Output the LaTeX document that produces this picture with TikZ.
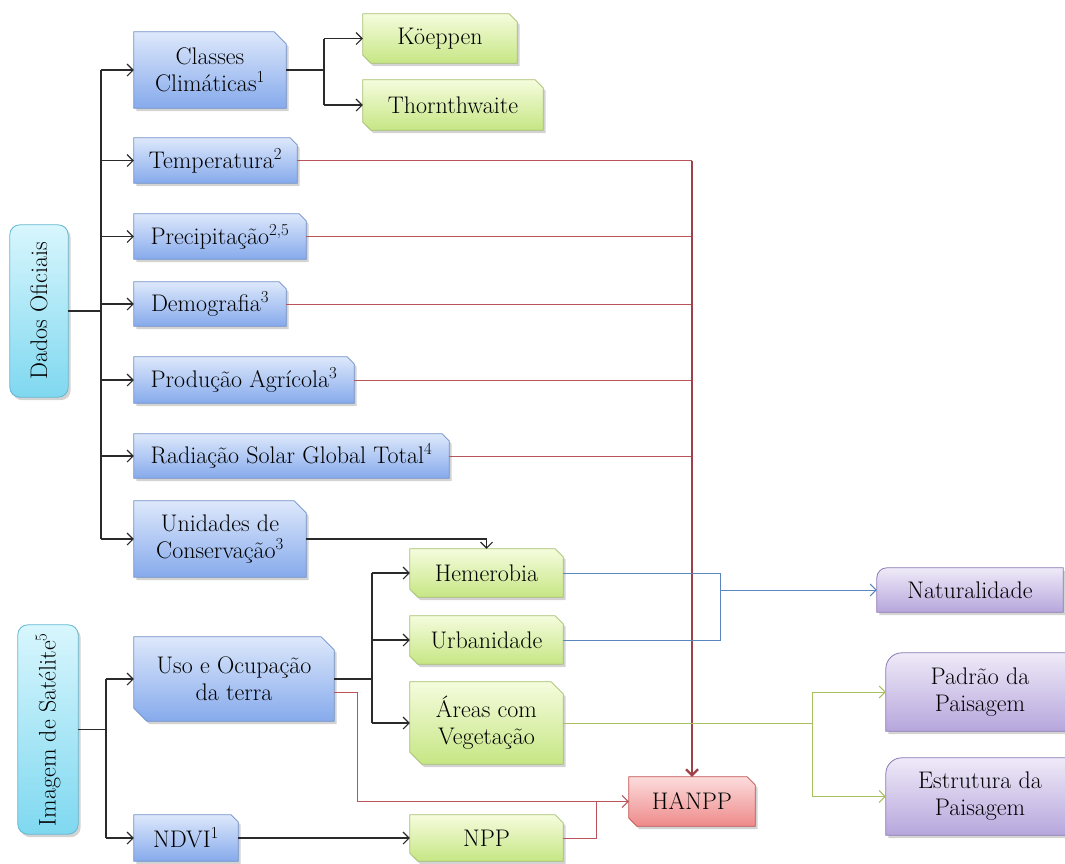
\documentclass[tikz,border=0pt]{standalone}
\usepackage{fontspec}
\usetikzlibrary{arrows.meta,shadows,calc}
\pgfdeclarelayer{background}
\pgfsetlayers{background,main}
\definecolor{bluetop}{HTML}{DDE8FB}
\definecolor{bluebot}{HTML}{86AAEC}
\definecolor{blueedge}{HTML}{6E8FC8}
\definecolor{greentop}{HTML}{F5FCDD}
\definecolor{greenbot}{HTML}{C6E684}
\definecolor{greenedge}{HTML}{A5BF6E}
\definecolor{cyantop}{HTML}{D8F6FD}
\definecolor{cyanbot}{HTML}{7FD8F0}
\definecolor{cyanedge}{HTML}{62B8D0}
\definecolor{pinktop}{HTML}{FCDCDC}
\definecolor{pinkbot}{HTML}{EE8A8A}
\definecolor{pinkedge}{HTML}{C0504D}
\definecolor{purptop}{HTML}{EFEAF8}
\definecolor{purpbot}{HTML}{B6A6DC}
\definecolor{purpedge}{HTML}{8C78B4}
\definecolor{lineblack}{HTML}{2A2A2A}
\definecolor{linered}{HTML}{B8545A}
\definecolor{lineredd}{HTML}{A04048}
\definecolor{lineblue}{HTML}{5A86BE}
\definecolor{linegreen}{HTML}{A8C060}
\newcommand\snipTR[3]{\path[#3] (#1.south west) -- (#1.north west) -- ([xshift=-#2]#1.north east) -- ([yshift=-#2]#1.north east) -- (#1.south east) -- cycle;}
\newcommand\snipDG[3]{\path[#3] ([yshift=#2]#1.south west) -- (#1.north west) -- ([xshift=-#2]#1.north east) -- ([yshift=-#2]#1.north east) -- (#1.south east) -- ([xshift=#2]#1.south west) -- cycle;}
\newcommand\roundTL[3]{\path[#3] (#1.south west) -- ([yshift=-#2]#1.north west) .. controls ([yshift=-0.45*#2]#1.north west) and ([xshift=0.45*#2]#1.north west) .. ([xshift=#2]#1.north west) -- (#1.north east) -- (#1.south east) -- cycle;}
\tikzset{
  box/.style={rectangle, inner sep=0pt, align=center, font=\rmfamily\fontsize{24}{27}\selectfont},
  shad/.style={drop shadow={opacity=0.35, shadow xshift=2.5pt, shadow yshift=-3pt}},
  bluefill/.style={shad, top color=bluetop, bottom color=bluebot, draw=blueedge, line width=0.8pt},
  greenfill/.style={shad, top color=greentop, bottom color=greenbot, draw=greenedge, line width=0.8pt},
  cyanfill/.style={shad, top color=cyantop, bottom color=cyanbot, draw=cyanedge, line width=0.8pt, rounded corners=10pt},
  pinkfill/.style={shad, top color=pinktop, bottom color=pinkbot, draw=pinkedge, line width=0.8pt},
  purpfill/.style={shad, top color=purptop, bottom color=purpbot, draw=purpedge, line width=0.8pt},
  conn/.style={draw=lineblack, line width=1.1pt},
  thickconn/.style={draw=lineblack, line width=2.2pt},
  redl/.style={draw=linered, line width=1pt},
  redthick/.style={draw=lineredd, line width=2.2pt},
  bluel/.style={draw=lineblue, line width=1pt},
  greenl/.style={draw=linegreen, line width=1pt},
  arr/.style={-{Straight Barb[length=6pt,width=12pt]}},
}
\begin{document}
\begin{tikzpicture}[x=1pt,y=-1pt]
\useasboundingbox (0,0) rectangle (1065,863);
% left roots
\node[box, rotate=90, minimum width=172pt, minimum height=58pt] (dados) at (39,311) {Dados Oficiais};
\node[box, rotate=90, minimum width=209pt, minimum height=60pt] (img) at (48,729.5) {Imagem de Satélite\textsuperscript{5}};
% blue
\node[box, minimum width=152pt, minimum height=76pt] (cc) at (210,70) {Classes\\Climáticas\textsuperscript{1}};
\node[box, minimum width=163pt, minimum height=45pt] (temp) at (215.5,160.5) {Temperatura\textsuperscript{2}};
\node[box, minimum width=172pt, minimum height=45pt] (prec) at (220,236.5) {Precipitação\textsuperscript{2,5}};
\node[box, minimum width=152pt, minimum height=44pt] (demo) at (210,304) {Demografia\textsuperscript{3}};
\node[box, minimum width=220pt, minimum height=46pt] (prod) at (244,380) {Produção Agrícola\textsuperscript{3}};
\node[box, minimum width=315pt, minimum height=44pt] (rad) at (291.5,456) {Radiação Solar Global Total\textsuperscript{4}};
\node[box, minimum width=172pt, minimum height=76pt] (uc) at (220,539) {Unidades de\\Conservação\textsuperscript{3}};
\node[box, minimum width=200pt, minimum height=84pt] (uso) at (234,679) {Uso e Ocupação\\da terra};
\node[box, minimum width=104pt, minimum height=46pt] (ndvi) at (186,838) {NDVI\textsuperscript{1}};
% green
\node[box, minimum width=154pt, minimum height=49pt] (koe) at (440,38.5) {Köeppen};
\node[box, minimum width=180pt, minimum height=50pt] (tho) at (453,105) {Thornthwaite};
\node[box, minimum width=153pt, minimum height=48pt] (hem) at (486.5,573) {Hemerobia};
\node[box, minimum width=153pt, minimum height=48pt] (urb) at (486.5,640) {Urbanidade};
\node[box, minimum width=153pt, minimum height=82pt] (are) at (486.5,723) {Áreas com\\Vegetação};
\node[box, minimum width=153pt, minimum height=46pt] (npp) at (486.5,838) {NPP};
% pink
\node[box, minimum width=126pt, minimum height=49pt] (hanpp) at (692,801.5) {HANPP};
% purple
\node[box, minimum width=186pt, minimum height=44pt] (nat) at (970,590) {Naturalidade};
\node[box, minimum width=188pt, minimum height=78pt] (pad) at (980,692) {Padrão da\\Paisagem};
\node[box, minimum width=188pt, minimum height=77pt] (est) at (980,796.5) {Estrutura da\\Paisagem};
\begin{pgfonlayer}{background}
\path[cyanfill] (dados.north west) rectangle (dados.south east);
\path[cyanfill] (img.north west) rectangle (img.south east);
\snipTR{cc}{12pt}{bluefill}
\snipTR{temp}{7pt}{bluefill}
\snipTR{prec}{7pt}{bluefill}
\snipTR{demo}{7pt}{bluefill}
\snipTR{prod}{7pt}{bluefill}
\snipTR{rad}{7pt}{bluefill}
\snipTR{uc}{12pt}{bluefill}
\snipDG{uso}{13pt}{bluefill}
\snipTR{ndvi}{7pt}{bluefill}
\snipDG{koe}{8pt}{greenfill}
\snipDG{tho}{8pt}{greenfill}
\snipDG{hem}{8pt}{greenfill}
\snipDG{urb}{8pt}{greenfill}
\snipDG{are}{12pt}{greenfill}
\snipDG{npp}{8pt}{greenfill}
\snipDG{hanpp}{8pt}{pinkfill}
\roundTL{nat}{10pt}{purpfill}
\roundTL{pad}{16pt}{purpfill}
\roundTL{est}{16pt}{purpfill}
\end{pgfonlayer}
% Dados Oficiais tree
\coordinate (t1) at (101,311);
\draw[thickconn] (dados.south) -- (t1);
\draw[conn] (cc.west -| t1) -- (uc.west -| t1);
\foreach \n in {cc,temp,prec,demo,prod,rad,uc}
  \draw[conn,arr] (\n.west -| t1) -- (\n.west);
% Classes
\coordinate (t2) at (324,70);
\draw[thickconn] (cc.east) -- (t2);
\draw[conn] (koe.west -| t2) -- (tho.west -| t2);
\draw[conn,arr] (koe.west -| t2) -- (koe.west);
\draw[conn,arr] (tho.west -| t2) -- (tho.west);
% red lines to HANPP
\foreach \n in {temp,prec,demo,prod,rad}
  \draw[redl] (\n.east) -- (\n.east -| hanpp.north);
\draw[redthick,arr] (temp.east -| hanpp.north) -- (hanpp.north);
% Unidades -> Hemerobia
\draw[conn,arr] (uc.east) -| (hem.north);
% Imagem tree
\coordinate (t3) at (106,729.5);
\draw[conn] (img.south) -- (t3);
\draw[conn] (uso.west -| t3) -- (ndvi.west -| t3);
\draw[conn,arr] (uso.west -| t3) -- (uso.west);
\draw[conn,arr] (ndvi.west -| t3) -- (ndvi.west);
% Uso tree
\coordinate (t4) at (372,679);
\draw[thickconn] (uso.east) -- (t4);
\draw[conn] (hem.west -| t4) -- (are.west -| t4);
\foreach \n in {hem,urb,are}
  \draw[conn,arr] (\n.west -| t4) -- (\n.west);
% NDVI -> NPP
\draw[conn,arr] (ndvi.east) -- (npp.west);
% Uso -> HANPP (red)
\coordinate (u1) at (334,692);
\coordinate (u2) at (357,692);
\draw[redl,arr] (u1) -- (u2) |- (hanpp.west);
% NPP -> HANPP
\coordinate (n1) at (596,838);
\draw[redl] (npp.east) -- (n1) -- (n1 |- hanpp.west);
% Hemerobia/Urbanidade -> Naturalidade
\coordinate (b1) at (720,590);
\draw[bluel] (hem.east) -| (b1 |- urb.east) -- (urb.east);
\draw[bluel,arr] (b1 |- nat.west) -- (nat.west);
% Areas -> Padrao / Estrutura
\coordinate (g1) at (812,722);
\draw[greenl] (are.east) -- (g1 |- are.east);
\draw[greenl] (g1 |- pad.west) -- (g1 |- est.west);
\draw[greenl,arr] (g1 |- pad.west) -- (pad.west);
\draw[greenl,arr] (g1 |- est.west) -- (est.west);
\end{tikzpicture}
\end{document}
